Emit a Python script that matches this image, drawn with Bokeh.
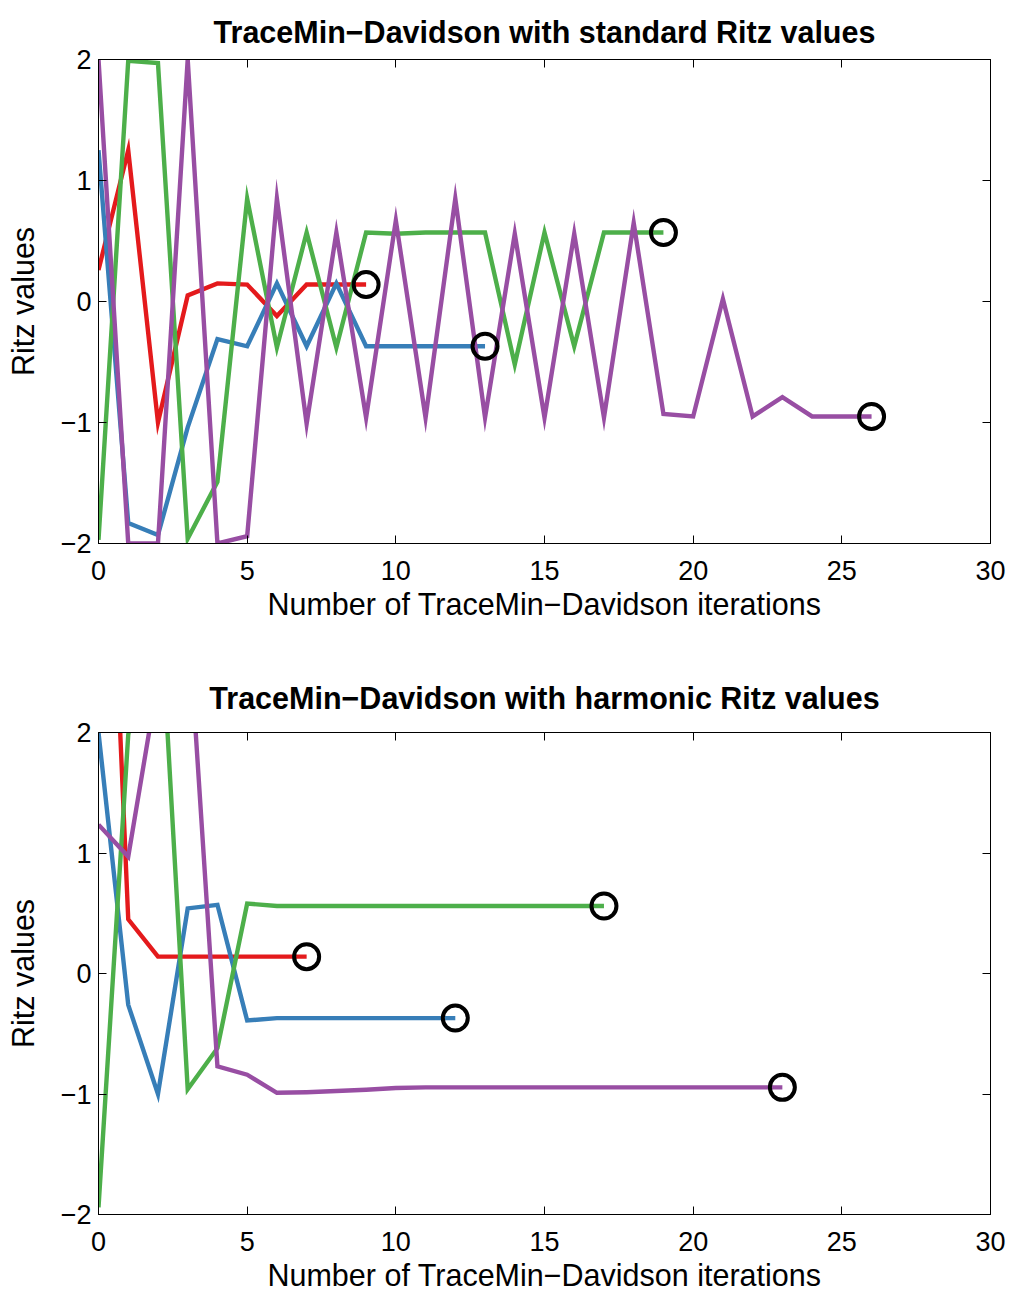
from bokeh.plotting import figure
from bokeh.layouts import column
from bokeh.models import LinearAxis, FixedTicker, Range1d, CustomJSTickFormatter
from bokeh.embed import file_html
from bokeh.resources import INLINE

# ---------------- data ----------------
x_ticks = [0, 5, 10, 15, 20, 25, 30]
y_ticks = [-2, -1, 0, 1, 2]
y_tick_labels = ["\u22122", "\u22121", "0", "1", "2"]

titles = ["TraceMin\u2212Davidson with standard Ritz values",
          "TraceMin\u2212Davidson with harmonic Ritz values"]
x_label = "Number of TraceMin\u2212Davidson iterations"
y_label = "Ritz values"

series_names = ["red", "blue", "green", "purple"]
series_colors = ["#e41a1c", "#377eb8", "#4daf4a", "#984ea3"]

# standard Ritz values (iteration index = position in list)
std_red = [0.26, 1.25, -1.0, 0.05, 0.15, 0.14, -0.12, 0.14, 0.14, 0.14]
std_blue = [1.25, -1.83, -1.93, -1.04, -0.31, -0.37, 0.15, -0.37, 0.15, -0.37,
            -0.37, -0.37, -0.37, -0.37]
std_green = [-1.97, 1.99, 1.97, -1.96, -1.49, 0.85, -0.38, 0.57, -0.38, 0.57,
             0.56, 0.57, 0.57, 0.57, -0.52, 0.57, -0.37, 0.57, 0.57, 0.57]
std_purple = [2.0, -2.0, -2.0, 2.0, -2.0, -1.94, 0.85, -1.01, 0.57, -0.96,
              0.67, -0.96, 0.85, -0.96, 0.56, -0.96, 0.56, -0.96, 0.65, -0.93,
              -0.95, 0.02, -0.95, -0.79, -0.95, -0.95, -0.95]

# harmonic Ritz values
harm_red = [6.2, 0.45, 0.14, 0.14, 0.14, 0.14, 0.14, 0.14]
harm_blue = [2.0, -0.26, -1.0, 0.54, 0.57, -0.39, -0.37, -0.37, -0.37, -0.37,
             -0.37, -0.37, -0.37]
harm_green = [-1.94, 1.98, 3.4, -0.96, -0.62, 0.58, 0.56, 0.56, 0.56, 0.56,
              0.56, 0.56, 0.56, 0.56, 0.56, 0.56, 0.56, 0.56]
harm_purple = [1.235, 0.97, 2.44, 3.02, -0.77, -0.84, -0.99, -0.985, -0.975,
               -0.965, -0.95, -0.945, -0.945, -0.945, -0.945, -0.945, -0.945,
               -0.945, -0.945, -0.945, -0.945, -0.945, -0.945, -0.945]

std_series = [std_red, std_blue, std_green, std_purple]
harm_series = [harm_red, harm_blue, harm_green, harm_purple]

FONT = "Liberation Sans"


def style_axis(ax, show_labels):
    ax.axis_line_color = "black"
    ax.axis_line_width = 1
    ax.major_tick_line_color = "black"
    ax.major_tick_line_width = 1
    ax.major_tick_in = 8
    ax.major_tick_out = 0
    ax.minor_tick_line_color = None
    ax.major_label_text_font = FONT
    ax.major_label_text_font_size = "27px"
    ax.major_label_text_color = "black"
    ax.axis_label_text_font = FONT
    ax.axis_label_text_font_size = "30.5px"
    ax.axis_label_text_font_style = "normal"
    ax.axis_label_text_color = "black"
    if not show_labels:
        ax.formatter = CustomJSTickFormatter(code="return ''")
        ax.major_label_standoff = 0


def make_fig(title, series, height, b_top, b_bottom, title_standoff):
    p = figure(width=1008, height=height,
               x_range=Range1d(0, 30), y_range=Range1d(-2, 2),
               output_backend="svg", toolbar_location=None,
               min_border_left=98, min_border_right=18,
               min_border_top=b_top, min_border_bottom=b_bottom,
               x_axis_label=x_label, y_axis_label=y_label)
    p.background_fill_color = "white"
    p.border_fill_color = "white"
    p.outline_line_color = "black"
    p.outline_line_width = 1
    p.xgrid.visible = False
    p.ygrid.visible = False

    p.title.text = title
    p.title.text_font = FONT
    p.title.text_font_size = "30.5px"
    p.title.text_font_style = "bold"
    p.title.text_color = "black"
    p.title.align = "center"
    p.title.text_line_height = 1.0
    p.title.standoff = title_standoff

    p.xaxis.ticker = FixedTicker(ticks=x_ticks)
    p.yaxis.ticker = FixedTicker(ticks=y_ticks)
    p.yaxis.major_label_overrides = {t: s for t, s in zip(y_ticks, y_tick_labels)}
    for ax in p.xaxis:
        style_axis(ax, True)
        ax.major_label_standoff = 17
        ax.axis_label_standoff = 4
    for ax in p.yaxis:
        style_axis(ax, True)
        ax.major_label_standoff = 7
        ax.axis_label_standoff = 18

    top_ax = LinearAxis(ticker=FixedTicker(ticks=x_ticks))
    right_ax = LinearAxis(ticker=FixedTicker(ticks=y_ticks))
    style_axis(top_ax, False)
    style_axis(right_ax, False)
    p.add_layout(top_ax, "above")
    p.add_layout(right_ax, "right")

    for vals, col in zip(series, series_colors):
        xs = list(range(len(vals)))
        p.line(xs, vals, line_color=col, line_width=4.4, line_join="miter")
    for vals in series:
        p.scatter([len(vals) - 1], [vals[-1]], marker="circle", size=25,
                  fill_color=None, line_color="black", line_width=4)
    return p


p1 = make_fig(titles[0], std_series, 645, 59, 102, 22)
p2 = make_fig(titles[1], harm_series, 649, 87, 79, 36)

layout = column(p1, p2, spacing=0)
open("out.html", "w").write(file_html(layout, INLINE))
